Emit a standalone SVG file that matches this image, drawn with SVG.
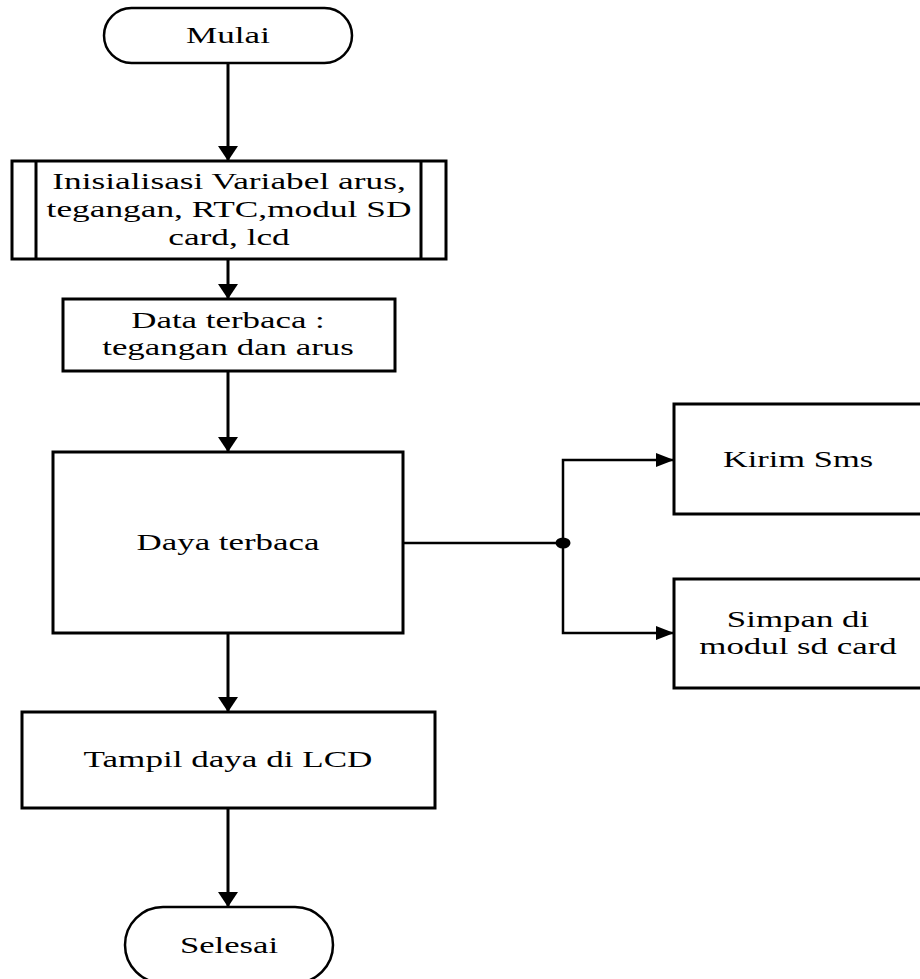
<svg xmlns="http://www.w3.org/2000/svg" width="920" height="979" viewBox="0 0 920 979">
<style>
.box{fill:#fff;stroke:#000;stroke-width:3}
.term{fill:#fff;stroke:#000;stroke-width:2.5}
.t{font-family:"Liberation Serif","Times New Roman",serif;font-size:22.5px;fill:#000;text-anchor:middle}
.c{fill:none;stroke:#000;stroke-width:3}
.c2{fill:none;stroke:#000;stroke-width:2.5}
</style>
<defs>
<marker id="ah" viewBox="0 0 15 20" refX="15" refY="10" markerWidth="15" markerHeight="20" markerUnits="userSpaceOnUse" orient="auto">
<path d="M0,0 L15,10 L0,20 z" fill="#000"/>
</marker>
<marker id="ahr" viewBox="0 0 18 14" refX="18" refY="7" markerWidth="18" markerHeight="14" markerUnits="userSpaceOnUse" orient="auto">
<path d="M0,0 L18,7 L0,14 z" fill="#000"/>
</marker>
</defs>
<rect width="920" height="979" fill="#fff"/>
<g id="connectors">
<line class="c" x1="228" y1="63" x2="228" y2="161" marker-end="url(#ah)"/>
<line class="c" x1="228" y1="259" x2="228" y2="299" marker-end="url(#ah)"/>
<line class="c" x1="228" y1="371" x2="228" y2="452" marker-end="url(#ah)"/>
<line class="c" x1="228" y1="633" x2="228" y2="712" marker-end="url(#ah)"/>
<line class="c" x1="228" y1="808" x2="228" y2="907" marker-end="url(#ah)"/>
<line class="c2" x1="403" y1="543" x2="563" y2="543"/>
<path class="c2" d="M563,543 V460 H674" marker-end="url(#ahr)"/>
<path class="c2" d="M563,543 V633 H674" marker-end="url(#ahr)"/>
<ellipse cx="563" cy="543" rx="7.5" ry="5.5" fill="#000"/>
</g>
<g id="mulai">
<rect class="term" x="104" y="8" width="248" height="55" rx="27.5" ry="27.5"/>
<text class="t" transform="translate(228,43) scale(1.56,1)">Mulai</text>
</g>
<g id="inisialisasi">
<rect class="box" x="12" y="161" width="434" height="98"/>
<line class="box" x1="36" y1="161" x2="36" y2="259"/>
<line class="box" x1="421" y1="161" x2="421" y2="259"/>
<text class="t" transform="translate(229,0) scale(1.57,1)"><tspan x="0" y="189">Inisialisasi Variabel arus,</tspan><tspan x="0" y="217">tegangan, RTC,modul SD</tspan><tspan x="0" y="245">card, lcd</tspan></text>
</g>
<g id="data">
<rect class="box" x="63" y="299" width="332" height="72"/>
<text class="t" transform="translate(228,0) scale(1.55,1)"><tspan x="0" y="328">Data terbaca :</tspan><tspan x="0" y="355">tegangan dan arus</tspan></text>
</g>
<g id="daya">
<rect class="box" x="53" y="452" width="350" height="181"/>
<text class="t" transform="translate(228,550) scale(1.55,1)">Daya terbaca</text>
</g>
<g id="kirim">
<rect class="box" x="674" y="404" width="250" height="110"/>
<text class="t" transform="translate(798,467) scale(1.53,1)">Kirim Sms</text>
</g>
<g id="simpan">
<rect class="box" x="674" y="579" width="250" height="109"/>
<text class="t" transform="translate(798,0) scale(1.55,1)"><tspan x="0" y="627">Simpan di</tspan><tspan x="0" y="654">modul sd card</tspan></text>
</g>
<g id="tampil">
<rect class="box" x="22" y="712" width="413" height="96"/>
<text class="t" transform="translate(228,767) scale(1.56,1)">Tampil daya di LCD</text>
</g>
<g id="selesai">
<rect class="term" x="125" y="907" width="208" height="76" rx="38" ry="38"/>
<text class="t" transform="translate(229,953) scale(1.54,1)">Selesai</text>
</g>
</svg>
